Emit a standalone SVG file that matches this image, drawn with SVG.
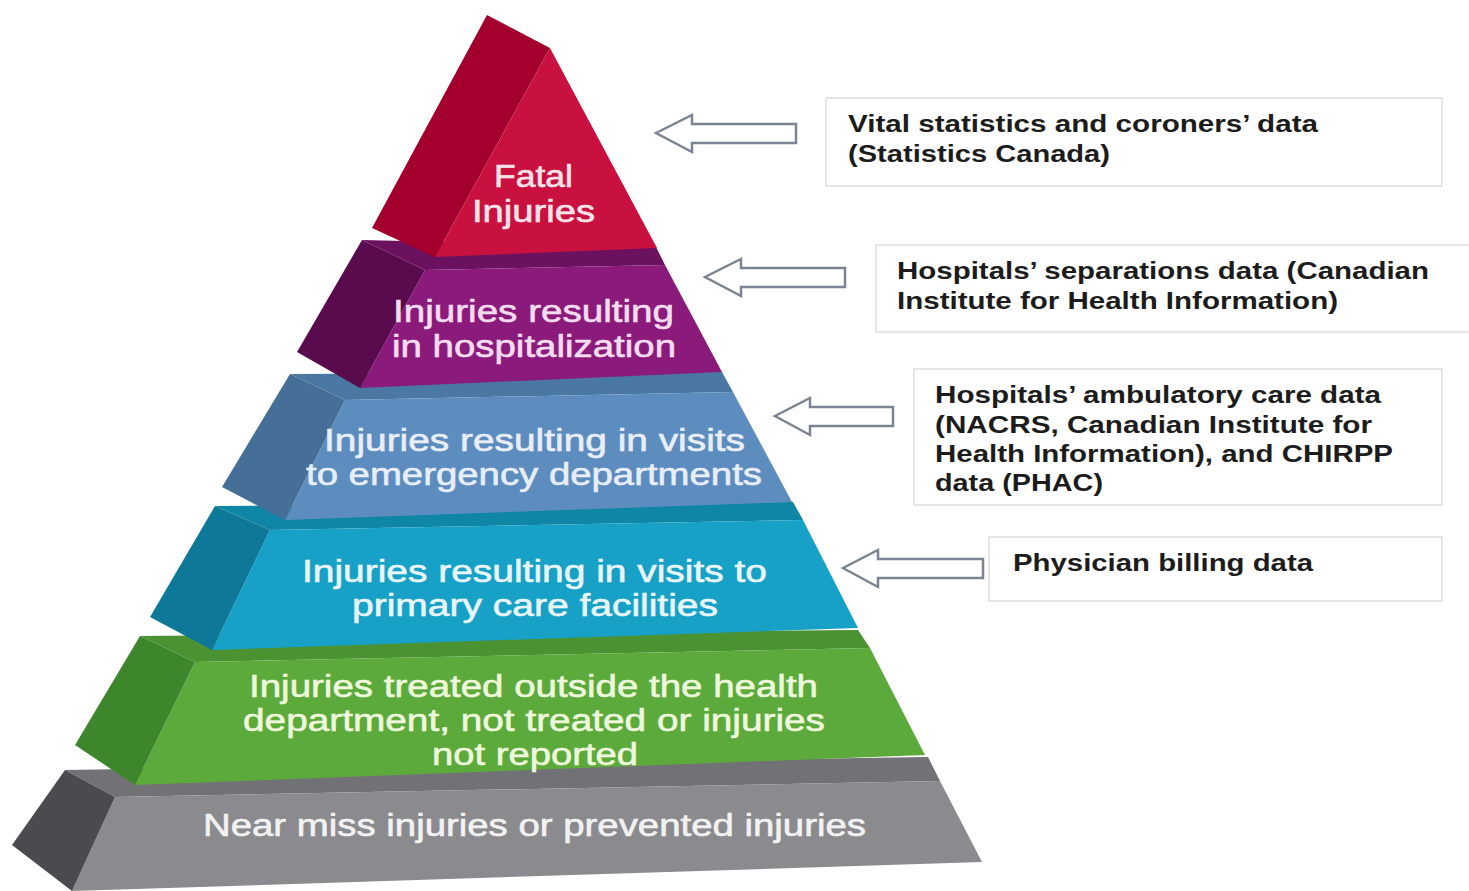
<svg xmlns="http://www.w3.org/2000/svg" width="1469" height="891" viewBox="0 0 1469 891">
<style>
.lbl{font-family:"Liberation Sans",Arial,sans-serif;font-size:31px;stroke-width:0.6;}
.src{font-family:"Liberation Sans",Arial,sans-serif;font-size:23px;font-weight:bold;fill:#1c1c1c;}
.box{fill:#ffffff;stroke:#dedede;stroke-width:1.5;}
.arr{fill:#ffffff;stroke:#7c8494;stroke-width:2.5;stroke-linejoin:miter;}
</style>
<rect width="1469" height="891" fill="#ffffff"/>

<g id="layer-near-miss">
<polygon points="65,770 928,757 940,781 115,797" fill="#727276"/>
<polygon points="115,797 940,781 982,862 72,891" fill="#8b8b8f"/>
<polygon points="65,770 115,797 72,891 12,845" fill="#4b4b4f"/>
<text class="lbl" x="203" y="836" fill="#f2f2f2" stroke="#f2f2f2" textLength="663" lengthAdjust="spacingAndGlyphs">Near miss injuries or prevented injuries</text>
</g>

<g id="layer-outside">
<polygon points="140,636 858,630 870,648 195,662" fill="#4a9232"/>
<polygon points="195,662 870,648 925,755 135,785" fill="#5caa3c"/>
<polygon points="140,636 195,662 135,785 75,745" fill="#3e862b"/>
<text class="lbl" fill="#eef8dc" stroke="#eef8dc">
<tspan x="249" y="697" textLength="569" lengthAdjust="spacingAndGlyphs">Injuries treated outside the health</tspan>
<tspan x="243" y="731" textLength="582" lengthAdjust="spacingAndGlyphs">department, not treated or injuries</tspan>
<tspan x="432" y="765" textLength="206" lengthAdjust="spacingAndGlyphs">not reported</tspan>
</text>
</g>

<g id="layer-primary-care">
<polygon points="215,506 793,502 803,520 270,530" fill="#0f86a6"/>
<polygon points="270,530 803,520 858,628 212,650" fill="#17a1c6"/>
<polygon points="215,506 270,530 212,650 150,617" fill="#0d7897"/>
<text class="lbl" fill="#e8f6fa" stroke="#e8f6fa">
<tspan x="302" y="582" textLength="465" lengthAdjust="spacingAndGlyphs">Injuries resulting in visits to</tspan>
<tspan x="352" y="616" textLength="366" lengthAdjust="spacingAndGlyphs">primary care facilities</tspan>
</text>
</g>

<g id="layer-emergency">
<polygon points="290,374 722,372 733,392 345,400" fill="#4a78a2"/>
<polygon points="345,400 733,392 792,502 285,520" fill="#5d8cbf"/>
<polygon points="290,374 345,400 285,520 222,487" fill="#456f96"/>
<text class="lbl" fill="#e8eef8" stroke="#e8eef8">
<tspan x="324" y="451" textLength="421" lengthAdjust="spacingAndGlyphs">Injuries resulting in visits</tspan>
<tspan x="306" y="485" textLength="456" lengthAdjust="spacingAndGlyphs">to emergency departments</tspan>
</text>
</g>

<g id="layer-hospitalization">
<polygon points="362,240 656,247 665,265 425,270" fill="#6c1160"/>
<polygon points="425,270 665,265 722,372 360,388" fill="#8b1b7a"/>
<polygon points="362,240 425,270 360,388 297,352" fill="#5a0b4e"/>
<text class="lbl" fill="#f4dcf0" stroke="#f4dcf0">
<tspan x="393" y="322" textLength="281" lengthAdjust="spacingAndGlyphs">Injuries resulting</tspan>
<tspan x="392" y="357" textLength="284" lengthAdjust="spacingAndGlyphs">in hospitalization</tspan>
</text>
</g>

<g id="layer-fatal">
<polygon points="487,15 550,48 435,257 372,228" fill="#a3002e"/>
<polygon points="550,48 657,248 435,257" fill="#c9113f"/>
<text class="lbl" fill="#f8e2ea" stroke="#f8e2ea">
<tspan x="494" y="187" textLength="79" lengthAdjust="spacingAndGlyphs">Fatal</tspan>
<tspan x="472" y="222" textLength="123" lengthAdjust="spacingAndGlyphs">Injuries</tspan>
</text>
</g>

<g id="source-vital">
<rect class="box" x="826" y="98" width="616" height="88"/>
<text class="src"><tspan x="848" y="132" textLength="470" lengthAdjust="spacingAndGlyphs">Vital statistics and coroners’ data</tspan><tspan x="848" y="162" textLength="262" lengthAdjust="spacingAndGlyphs">(Statistics Canada)</tspan></text>
</g>

<g id="source-separations">
<rect class="box" x="876" y="245" width="600" height="87"/>
<text class="src"><tspan x="897" y="279" textLength="532" lengthAdjust="spacingAndGlyphs">Hospitals’ separations data (Canadian</tspan><tspan x="897" y="309" textLength="441" lengthAdjust="spacingAndGlyphs">Institute for Health Information)</tspan></text>
</g>

<g id="source-ambulatory">
<rect class="box" x="914" y="369" width="528" height="136"/>
<text class="src"><tspan x="935" y="403" textLength="446" lengthAdjust="spacingAndGlyphs">Hospitals’ ambulatory care data</tspan><tspan x="935" y="433" textLength="437" lengthAdjust="spacingAndGlyphs">(NACRS, Canadian Institute for</tspan><tspan x="935" y="462" textLength="458" lengthAdjust="spacingAndGlyphs">Health Information), and CHIRPP</tspan><tspan x="935" y="491" textLength="168" lengthAdjust="spacingAndGlyphs">data (PHAC)</tspan></text>
</g>

<g id="source-physician">
<rect class="box" x="989" y="537" width="453" height="64"/>
<text class="src" x="1013" y="571" textLength="300" lengthAdjust="spacingAndGlyphs">Physician billing data</text>
</g>

<g id="connectors">
<polygon class="arr" points="656,133 692,115 692,124 796,124 796,143 692,143 692,152"/>
<polygon class="arr" points="705,277 741,259 741,268 845,268 845,287 741,287 741,296"/>
<polygon class="arr" points="775,416 810,398 810,407 893,407 893,426 810,426 810,435"/>
<polygon class="arr" points="843,568 878,550 878,559 983,559 983,578 878,578 878,587"/>
</g>
</svg>
